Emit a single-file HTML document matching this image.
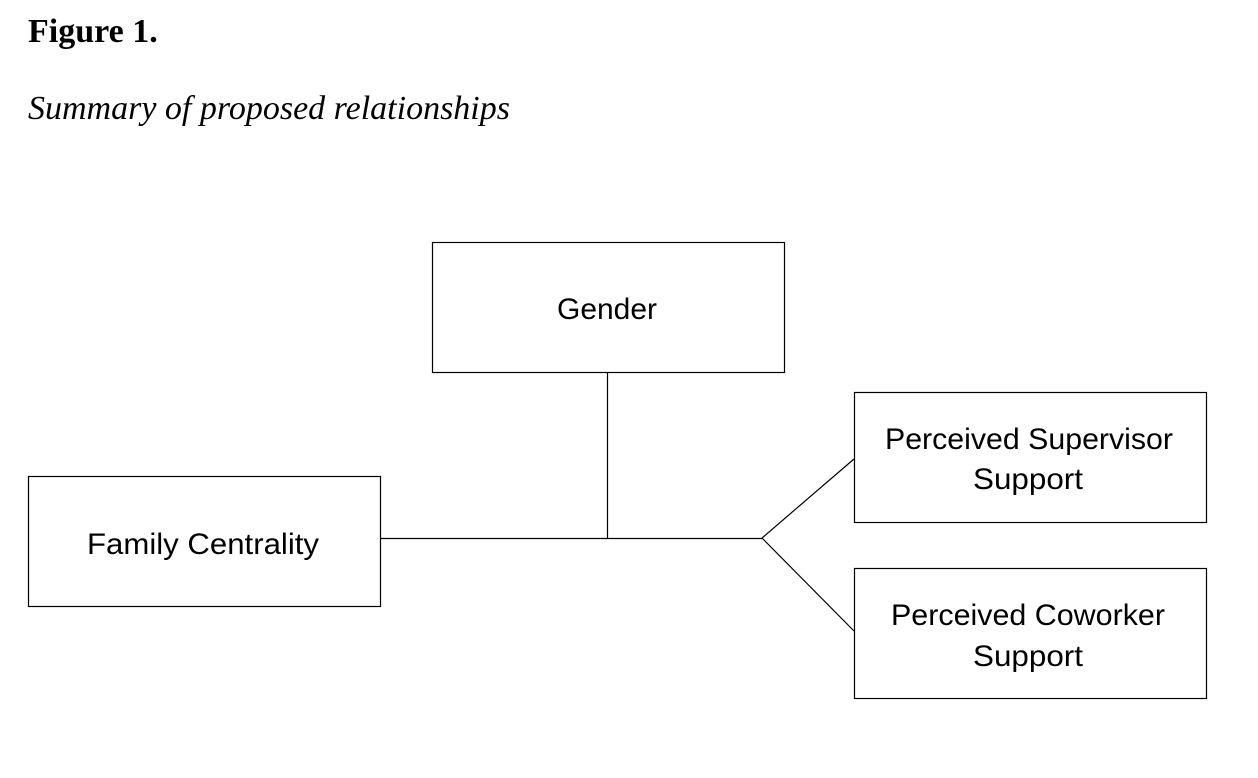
<!DOCTYPE html>
<html><head><style>
body{margin:0;width:1258px;height:778px;background:#fff;overflow:hidden}
.t{position:absolute;font-family:"Liberation Serif",serif;color:#000;line-height:1}
</style></head><body>
<div class="t" style="left:28px;top:15px;font-size:34px;font-weight:bold">Figure 1.</div>
<div class="t" style="left:28px;top:92px;font-size:34px;font-style:italic">Summary of proposed relationships</div>
<svg width="1258" height="778" style="position:absolute;left:0;top:0" font-family="Liberation Sans, sans-serif" font-size="30" text-anchor="middle">
<g fill="none" stroke="#000" stroke-width="1.2">
<rect x="432.5" y="242.5" width="352" height="130"/>
<rect x="28.5" y="476.5" width="352" height="130"/>
<rect x="854.5" y="392.5" width="352" height="130"/>
<rect x="854.5" y="568.5" width="352" height="130"/>
<path d="M380 538.5H762M607.5 372V538M762 538L854 459M762 538L854 631"/>
</g>
<text x="607" y="319" textLength="100" lengthAdjust="spacingAndGlyphs">Gender</text>
<text x="203" y="554" textLength="232" lengthAdjust="spacingAndGlyphs">Family Centrality</text>
<text x="1029" y="449" textLength="288" lengthAdjust="spacingAndGlyphs">Perceived Supervisor</text>
<text x="1028" y="489" textLength="110" lengthAdjust="spacingAndGlyphs">Support</text>
<text x="1028" y="625" textLength="274" lengthAdjust="spacingAndGlyphs">Perceived Coworker</text>
<text x="1028" y="666" textLength="110" lengthAdjust="spacingAndGlyphs">Support</text>
</svg>
</body></html>
